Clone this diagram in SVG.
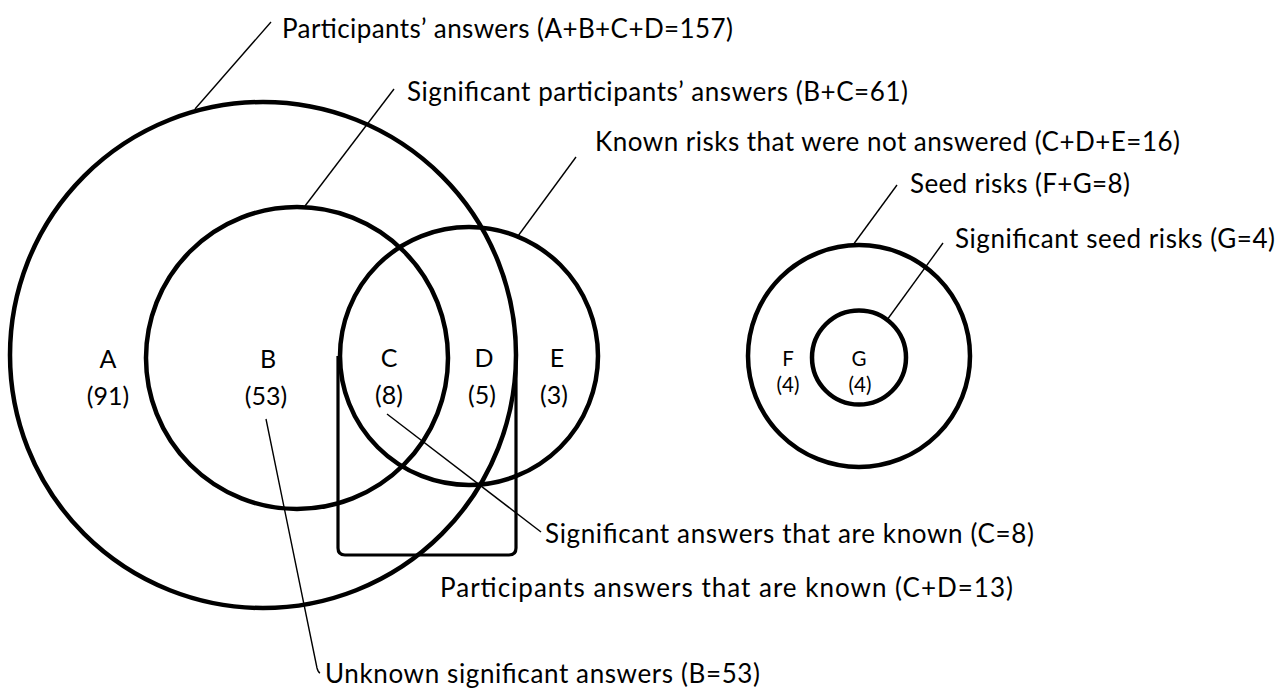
<svg xmlns="http://www.w3.org/2000/svg" width="1277" height="690" viewBox="0 0 1277 690">
<style>
.set{fill:none;stroke:#000;stroke-width:4.5}
.box{fill:none;stroke:#000;stroke-width:3.2}
.lead{fill:none;stroke:#000;stroke-width:1.4}
.call{font-family:Lato,"Liberation Sans",sans-serif;font-size:26px;fill:#000}
.lab{font-family:Lato,"Liberation Sans",sans-serif;font-size:25px;fill:#000;text-anchor:middle}
.labs{font-family:Lato,"Liberation Sans",sans-serif;font-size:20.5px;fill:#000;text-anchor:middle}
</style>
<rect width="1277" height="690" fill="#fff"/>
<g id="participants-answers">
<circle class="set" cx="263" cy="355" r="253"/>
<text class="lab" x="108" y="368">A<tspan x="108" dy="37">(91)</tspan></text>
<text class="call" x="282" y="38" textLength="451">Participants’ answers (A+B+C+D=157)</text>
</g>
<g id="significant-answers">
<circle class="set" cx="297" cy="358" r="151"/>
<text class="lab" x="268" y="368">B<tspan x="266" dy="37">(53)</tspan></text>
<text class="call" x="407" y="101" textLength="501">Significant participants’ answers (B+C=61)</text>
</g>
<g id="known-risks">
<circle class="set" cx="469" cy="356" r="129"/>
<text class="lab" x="389" y="367">C<tspan x="389" dy="37">(8)</tspan></text>
<text class="lab" x="484" y="367">D<tspan x="482" dy="37">(5)</tspan></text>
<text class="lab" x="557" y="367">E<tspan x="554" dy="37">(3)</tspan></text>
<text class="call" x="595" y="151" textLength="585">Known risks that were not answered (C+D+E=16)</text>
</g>
<g id="known-answers">
<path class="box" d="M338,356 V548 Q338,555 345,555 H509 Q516,555 516,548 V356"/>
<text class="call" x="440" y="597" textLength="573">Participants answers that are known (C+D=13)</text>
</g>
<g id="seed-risks">
<circle class="set" cx="859" cy="356" r="111"/>
<text class="labs" x="788" y="366">F</text>
<text class="labs" x="788" y="392">(4)</text>
<text class="call" x="910" y="193" textLength="220">Seed risks (F+G=8)</text>
</g>
<g id="significant-seed-risks">
<circle class="set" cx="859" cy="357.5" r="47"/>
<text class="labs" x="859" y="366">G</text>
<text class="labs" x="860" y="392">(4)</text>
<text class="call" x="955" y="248" textLength="320">Significant seed risks (G=4)</text>
</g>
<g id="significant-known">
<text class="call" x="545" y="543" textLength="489">Significant answers that are known (C=8)</text>
</g>
<g id="unknown-significant">
<text class="call" x="325" y="683" textLength="435">Unknown significant answers (B=53)</text>
</g>
<g id="connectors">
<line class="lead" x1="271" y1="22" x2="195" y2="109"/>
<line class="lead" x1="394" y1="89" x2="305" y2="206"/>
<line class="lead" x1="576" y1="157" x2="518" y2="236"/>
<line class="lead" x1="897" y1="185" x2="853" y2="245"/>
<line class="lead" x1="943" y1="243" x2="887" y2="320"/>
<line class="lead" x1="387" y1="414" x2="541" y2="532"/>
<path class="lead" d="M266,419 L317,668 Q318,672 320,673"/>
</g>
</svg>
